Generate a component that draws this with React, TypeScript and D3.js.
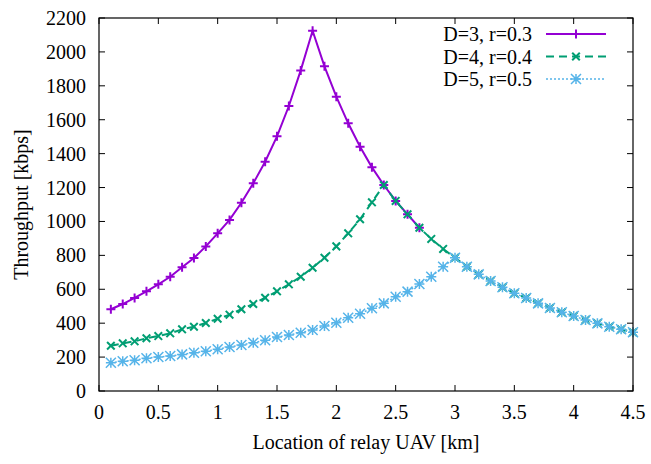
import React, { useEffect } from "react";
import * as d3 from "d3";

// relay position along the link [km]
const locations = [
  0.1, 0.2, 0.3, 0.4, 0.5, 0.6, 0.7, 0.8, 0.9, 1.0, 1.1, 1.2, 1.3, 1.4, 1.5,
  1.6, 1.7, 1.8, 1.9, 2.0, 2.1, 2.2, 2.3, 2.4, 2.5, 2.6, 2.7, 2.8, 2.9, 3.0,
  3.1, 3.2, 3.3, 3.4, 3.5, 3.6, 3.7, 3.8, 3.9, 4.0, 4.1, 4.2, 4.3, 4.4, 4.5,
];

// throughput [kbps]
const throughputD3 = [
  482, 513, 549, 588, 629, 674, 730, 784, 853, 930, 1009, 1110, 1225, 1352, 1502,
  1681, 1891, 2125, 1915, 1736, 1579, 1441, 1319, 1215, 1121, 1042, 963,
];
const throughputD4 = [
  267, 281, 293, 311, 324, 340, 364, 379, 401, 426, 450, 482, 513, 550, 588,
  629, 674, 727, 786, 853, 930, 1013, 1113, 1215, 1121, 1042, 963, 897, 838, 786,
  733, 688, 649, 612, 576, 549, 517, 490, 464, 442, 419, 399, 379, 364, 346,
];
const throughputD5 = [
  167, 175, 181, 193, 201, 206, 216, 226, 234, 246, 260, 271, 285, 299, 318,
  330, 344, 360, 383, 403, 432, 456, 488, 517, 556, 586, 631, 674, 733, 786,
  733, 688, 649, 612, 576, 549, 517, 490, 464, 442, 419, 399, 379, 364, 346,
];

const seriesLabels = ["D=3, r=0.3", "D=4, r=0.4", "D=5, r=0.5"];
const xTicks = [0, 0.5, 1, 1.5, 2, 2.5, 3, 3.5, 4, 4.5];
const yTicks = [0, 200, 400, 600, 800, 1000, 1200, 1400, 1600, 1800, 2000, 2200];

const W = 651;
const H = 464;
const margin = { left: 99, right: 18, top: 18, bottom: 73 };
const font = "Liberation Serif, Times New Roman, DejaVu Serif, serif";

type Marker = "plus" | "cross" | "star";

const MarkerShape = ({ x, y, kind, color }: { x: number; y: number; kind: Marker; color: string }) => {
  const s = kind === "star" ? 5 : kind === "plus" ? 4.5 : 3.8;
  const sw = kind === "star" ? 1.5 : 2;
  const plus = `M${x - s},${y}H${x + s}M${x},${y - s}V${y + s}`;
  const cross = `M${x - s},${y - s}L${x + s},${y + s}M${x - s},${y + s}L${x + s},${y - s}`;
  const d = kind === "plus" ? plus : kind === "cross" ? cross : plus + cross;
  return <path d={d} stroke={color} strokeWidth={sw} fill="none" />;
};

export default function App() {
  useEffect(() => {
    document.body.style.margin = "0";
  }, []);

  const x = d3.scaleLinear().domain([0, 4.5]).range([margin.left, W - margin.right]);
  const y = d3.scaleLinear().domain([0, 2200]).range([H - margin.bottom, margin.top]);

  const series = [
    { label: seriesLabels[0], values: throughputD3, color: "#9400d3", dash: "", width: 2, marker: "plus" as Marker },
    { label: seriesLabels[1], values: throughputD4, color: "#009e73", dash: "8,5", width: 2, marker: "cross" as Marker },
    { label: seriesLabels[2], values: throughputD5, color: "#56b4e9", dash: "2,2", width: 1.5, marker: "star" as Marker },
  ];

  const line = d3
    .line<number>()
    .x((_, i) => x(locations[i]))
    .y((d) => y(d));

  const [x0, x1] = x.range();
  const [y0, y1] = y.range();
  const tickLen = 6;

  return (
    <svg width={W} height={H} style={{ display: "block", background: "#fff", fontFamily: font }}>
      {/* ticks, mirrored on all sides */}
      <g stroke="#000" strokeWidth={1}>
        {xTicks.map((t) => (
          <g key={`xt${t}`}>
            <line x1={x(t)} x2={x(t)} y1={y0} y2={y0 - tickLen} />
            <line x1={x(t)} x2={x(t)} y1={y1} y2={y1 + tickLen} />
          </g>
        ))}
        {yTicks.map((t) => (
          <g key={`yt${t}`}>
            <line x1={x0} x2={x0 + tickLen} y1={y(t)} y2={y(t)} />
            <line x1={x1} x2={x1 - tickLen} y1={y(t)} y2={y(t)} />
          </g>
        ))}
      </g>

      {/* tick labels */}
      <g fontSize={20} fill="#000">
        {xTicks.map((t) => (
          <text key={`xl${t}`} x={x(t)} y={y0 + 28} textAnchor="middle">
            {t}
          </text>
        ))}
        {yTicks.map((t) => (
          <text key={`yl${t}`} x={x0 - 13} y={y(t)} dy="0.35em" textAnchor="end">
            {t}
          </text>
        ))}
      </g>

      {/* axis titles */}
      <text x={(x0 + x1) / 2} y={449} fontSize={20} textAnchor="middle">
        Location of relay UAV [km]
      </text>
      <text
        transform={`translate(28,${(y0 + y1) / 2}) rotate(-90)`}
        fontSize={20}
        textAnchor="middle"
      >
        Throughput [kbps]
      </text>

      {/* data */}
      {series.map((s) => (
        <g key={s.label}>
          <path
            d={line(s.values) ?? ""}
            fill="none"
            stroke={s.color}
            strokeWidth={s.width}
            strokeDasharray={s.dash || undefined}
          />
          {s.values.map((v, i) => (
            <MarkerShape key={i} x={x(locations[i])} y={y(v)} kind={s.marker} color={s.color} />
          ))}
        </g>
      ))}

      {/* legend */}
      <g fontSize={20}>
        {series.map((s, i) => {
          const ly = 34 + i * 22.5;
          return (
            <g key={`lg${i}`}>
              <text x={532} y={ly} dy="0.35em" textAnchor="end">
                {s.label}
              </text>
              <line
                x1={546}
                x2={606}
                y1={ly}
                y2={ly}
                stroke={s.color}
                strokeWidth={s.width}
                strokeDasharray={s.dash || undefined}
              />
              <MarkerShape x={576} y={ly} kind={s.marker} color={s.color} />
            </g>
          );
        })}
      </g>

      {/* frame */}
      <rect x={x0} y={y1} width={x1 - x0} height={y0 - y1} fill="none" stroke="#000" strokeWidth={1.2} />
    </svg>
  );
}
